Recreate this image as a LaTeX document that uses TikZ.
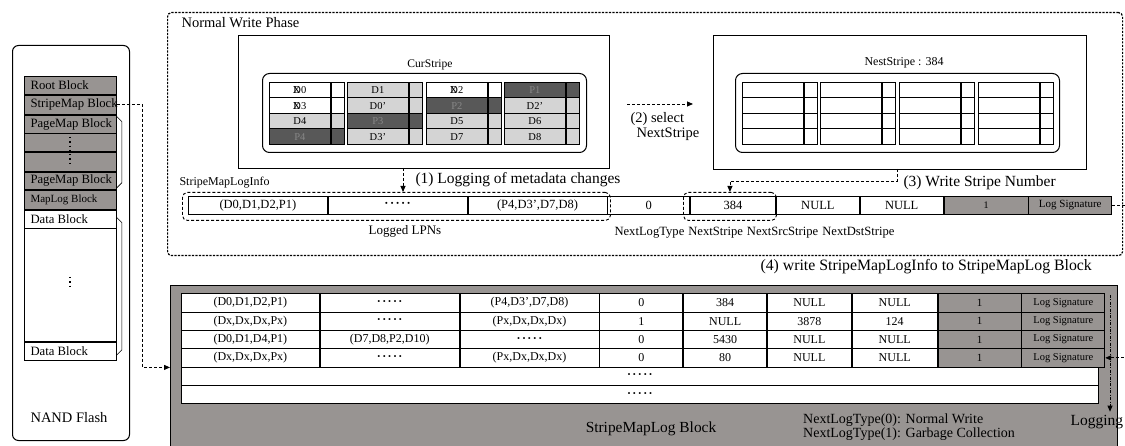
\documentclass[tikz,border=0pt]{standalone}
\usepackage{fontspec}
\setmainfont{Liberation Serif}
\usetikzlibrary{arrows.meta,calc}
\definecolor{blockgray}{RGB}{152,148,146}
\definecolor{lightcell}{RGB}{212,212,212}
\definecolor{darkcell}{RGB}{88,88,88}
\definecolor{darktext}{RGB}{135,135,135}
\newcommand\fs[1]{\fontsize{#1}{#1}\selectfont}
\newcommand\crossed[1]{\makebox[0pt][l]{\kern-0.5pt X}#1}
\newcommand\dotrow{{\bfseries ·\kern1.4pt·\kern1.4pt·\kern1.4pt·\kern1.4pt·}}
\tikzset{
 fr/.style={draw, line width=1pt, anchor=north west, inner sep=0pt},
 cellbox/.style={draw, line width=0.8pt, anchor=north west, inner sep=0pt, minimum height=15.5pt},
 mainc/.style={cellbox, minimum width=61pt, font=\fs{10.5}},
 sidec/.style={cellbox, minimum width=13pt},
 wc/.style={fill=white}, lc/.style={fill=lightcell}, dc/.style={fill=darkcell, text=darktext},
 nblk/.style={draw, line width=0.8pt, anchor=north west, minimum width=92pt, inner sep=0pt},
 blktxt/.style={anchor=west, font=\fs{12.7}},
 dsh/.style={dash pattern=on 3pt off 2pt, line width=0.9pt},
 dotb/.style={dash pattern=on 2.2pt off 1.3pt, line width=1.2pt},
 tip/.style={-{Triangle[length=6pt,width=5pt]}},
 logc/.style={draw, line width=0.8pt, anchor=north west, inner sep=0pt, minimum height=18pt, fill=white, font=\fs{12.5}},
 tc/.style={draw, line width=0.8pt, anchor=north west, inner sep=0pt, minimum height=18.33pt, fill=white, font=\fs{12}},
}
\newcommand\stcell[5]{%
 \node[mainc,#4] (#1) at (#2,#3) {#5};
 \node[sidec,#4] (#1s) at (#1.north east) {};}
\newcommand\logrow[9]{%
 \node[tc, minimum width=138pt] (#1a) at (181,#2) {#3};
 \node[tc, minimum width=139pt] (#1b) at (#1a.north east) {#4};
 \node[tc, minimum width=139pt] (#1c) at (#1b.north east) {#5};
 \node[tc, minimum width=83pt] (#1d) at (#1c.north east) {#6};
 \node[tc, minimum width=83pt] (#1e) at (#1d.north east) {#7};
 \node[tc, minimum width=84pt] (#1f) at (#1e.north east) {#8};
 \node[tc, minimum width=85pt] (#1g) at (#1f.north east) {#9};
 \node[tc, fill=blockgray, minimum width=83pt, font=\fs{11}] (#1h) at (#1g.north east) {1};
 \node[tc, fill=blockgray, minimum width=83pt, font=\fs{10.5}] (#1i) at (#1h.north east) {Log Signature};}
\begin{document}
\begin{tikzpicture}[x=1pt,y=-1pt]
\useasboundingbox (0,0) rectangle (1125,446);
% ---------------- NAND flash ----------------
\node[fr, rounded corners=6pt, minimum width=117pt, minimum height=395pt] (nand) at (12,45) {};
\node[nblk, fill=blockgray, minimum height=18pt] (rootb) at (24,76) {};
\node[nblk, fill=blockgray, minimum height=19pt] (smb) at (rootb.south west) {};
\node[nblk, fill=blockgray, minimum height=18pt] (pm1) at (smb.south west) {};
\node[nblk, fill=blockgray, minimum height=18pt] (pd1) at (pm1.south west) {};
\node[nblk, fill=blockgray, minimum height=19pt] (pd2) at (pd1.south west) {};
\node[nblk, fill=blockgray, minimum height=17pt] (pm2) at (pd2.south west) {};
\node[nblk, fill=blockgray, minimum height=19pt] (mlb) at (pm2.south west) {};
\node[nblk, fill=white, minimum height=18pt] (db1) at (mlb.south west) {};
\node[nblk, fill=white, minimum height=113pt] (dbm) at (db1.south west) {};
\node[nblk, fill=white, minimum height=18pt] (db2) at (dbm.south west) {};
\node[blktxt] at ($(rootb.west)+(3,0)$) {Root Block};
\node[blktxt] at ($(smb.west)+(3,0)$) {StripeMap Block};
\node[blktxt] at ($(pm1.west)+(3,0)$) {PageMap Block};
\node[blktxt] at ($(pm2.west)+(3,0)$) {PageMap Block};
\node[blktxt, font=\fs{11}] at ($(mlb.west)+(3,0)$) {MapLog Block};
\node[blktxt] at ($(db1.west)+(3,0)$) {Data Block};
\node[blktxt] at ($(db2.west)+(3,0)$) {Data Block};
\draw[line width=1.3pt, dash pattern=on 1.3pt off 3pt] (70,137) -- (70,165);
\draw[line width=1.3pt, dash pattern=on 1.3pt off 3pt] (70,277) -- (70,289);
\draw[line width=0.6pt] ($(pm1.north east)+(0,2)$) -- ++(5,5) -- ($(pm2.south east)+(5,-7)$) -- ($(pm2.south east)+(0,-2)$);
\draw[line width=0.6pt] ($(db1.north east)+(0,8)$) -- ++(5,5) -- ($(db2.south east)+(5,-11)$) -- ($(db2.south east)+(0,-6)$);
\node[anchor=west, font=\fs{14.5}] (nandlbl) at (27,418) {NAND Flash};
% ---------------- Normal write phase ----------------
\node[draw, dotb, anchor=north west, minimum width=955pt, minimum height=243pt, rounded corners=4pt, inner sep=0pt] (nwp) at (167,12) {};
\node[anchor=west, font=\fs{14.5}] (nwplbl) at (178,23) {Normal Write Phase};
% CurStripe
\node[fr, minimum width=371pt, minimum height=133pt] (cur) at (238,35) {};
\node[font=\fs{11.6}] (curlbl) at (430,65) {CurStripe};
\node[fr, rounded corners=7pt, minimum width=324pt, minimum height=79pt] (curin) at (262,73) {};
\stcell{c11}{269}{82}{wc}{\crossed{D}0}
\stcell{c12}{269}{97.5}{wc}{\crossed{D}3}
\stcell{c13}{269}{113}{lc}{D4}
\stcell{c14}{269}{128.5}{dc}{P4}
\stcell{c21}{347}{82}{lc}{D1}
\stcell{c22}{347}{97.5}{lc}{D0'}
\stcell{c23}{347}{113}{dc}{P3}
\stcell{c24}{347}{128.5}{lc}{D3'}
\stcell{c31}{426}{82}{wc}{\crossed{D}2}
\stcell{c32}{426}{97.5}{dc}{P2}
\stcell{c33}{426}{113}{lc}{D5}
\stcell{c34}{426}{128.5}{lc}{D7}
\stcell{c41}{504}{82}{dc}{P1}
\stcell{c42}{504}{97.5}{lc}{D2'}
\stcell{c43}{504}{113}{lc}{D6}
\stcell{c44}{504}{128.5}{lc}{D8}
% NextStripe
\node[fr, minimum width=373pt, minimum height=134pt] (nxt) at (713,35) {};
\node[font=\fs{12}] (nxtlbl) at (904,63) {NestStripe : 384};
\node[fr, rounded corners=7pt, minimum width=324pt, minimum height=79pt] (nxtin) at (735,73) {};
\foreach \x [count=\i] in {742,820,899,978}
 \foreach \y [count=\j] in {82,97.5,113,128.5}
  {\stcell{n\i\j}{\x}{\y}{wc}{}}
% (2) select NextStripe
\coordinate (s2a) at (627,104);
\coordinate (s2b) at (693,104);
\draw[dsh,tip] (s2a) -- (s2b);
\node[anchor=west, font=\fs{14.5}] (sel1) at (627,119) {(2) select};
\node[anchor=west, font=\fs{14.5}] (sel2) at (633,134) {NextStripe};
% StripeMapLogInfo row
\node[anchor=west, font=\fs{12}] (smliLbl) at (176,183) {StripeMapLogInfo};
\node[logc, minimum width=139pt] (i1) at (188,196) {(D0,D1,D2,P1)};
\node[logc, minimum width=139pt] (i2) at (i1.north east) {\dotrow};
\node[logc, minimum width=139pt] (i3) at (i2.north east) {(P4,D3',D7,D8)};
\node[logc, minimum width=82pt] (i4) at (i3.north east) {0};
\node[logc, minimum width=85pt] (i5) at (i4.north east) {384};
\node[logc, minimum width=83pt] (i6) at (i5.north east) {NULL};
\node[logc, minimum width=83pt] (i7) at (i6.north east) {NULL};
\node[logc, minimum width=84pt, fill=blockgray, font=\fs{10}] (i8) at (i7.north east) {1};
\node[logc, minimum width=83pt, fill=blockgray, font=\fs{11}] (i9) at (i8.north east) {Log Signature};
\node[draw, dsh, rounded corners=5pt, anchor=north west, minimum width=428pt, minimum height=28pt, inner sep=0pt] (lpnbox) at (182,192) {};
\node[draw, dsh, rounded corners=5pt, anchor=north west, minimum width=93pt, minimum height=28pt, inner sep=0pt] (nsbox) at (683,192) {};
\node[font=\fs{13}] (lpnlbl) at (405,231) {Logged LPNs};
\node[anchor=west, font=\fs{12.6}] (fieldlbl) at (611,233) {NextLogType\hspace{4pt}NextStripe\hspace{4pt}NextSrcStripe\hspace{4pt}NextDstStripe};
% (1) logging
\coordinate (p1) at (403,168);
\draw[dsh,tip] (p1) -- (p1 |- lpnbox.north);
\node[anchor=west, font=\fs{15.5}] (log1) at (412,180) {(1) Logging of metadata changes};
% (3) write stripe number
\coordinate (p3) at (897,169);
\draw[dsh,tip] (p3) -- (897,181) -| (nsbox.north);
\node[anchor=west, font=\fs{15.5}] (log3) at (900,183) {(3) Write Stripe Number};
% (4)
\node[anchor=west, font=\fs{15.8}] (log4) at (757,267) {(4) write StripeMapLogInfo to StripeMapLog Block};
% ---------------- StripeMapLog block ----------------
\node[draw, line width=1pt, fill=blockgray, anchor=north west, minimum width=947pt, minimum height=170pt, inner sep=0pt] (slb) at (170,285) {};
\logrow{r1}{293.3}{(D0,D1,D2,P1)}{\dotrow}{(P4,D3',D7,D8)}{0}{384}{NULL}{NULL}
\logrow{r2}{311.7}{(Dx,Dx,Dx,Px)}{\dotrow}{(Px,Dx,Dx,Dx)}{1}{NULL}{3878}{124}
\logrow{r3}{330}{(D0,D1,D4,P1)}{(D7,D8,P2,D10)}{\dotrow}{0}{5430}{NULL}{NULL}
\logrow{r4}{348.3}{(Dx,Dx,Dx,Px)}{\dotrow}{(Px,Dx,Dx,Dx)}{0}{80}{NULL}{NULL}
\node[tc, minimum width=917pt] (r5) at (181,366.7) {\dotrow};
\node[tc, minimum width=917pt] (r6) at (181,385) {\dotrow};
\node[font=\fs{15.4}] (slblbl) at (651,429) {StripeMapLog Block};
\node[anchor=north west, align=left, font=\fontsize{14}{14}\selectfont, inner sep=0pt] (types) at (803,414) {NextLogType(0): Normal Write\\NextLogType(1): Garbage Collection};
\node[anchor=west, font=\fs{15.5}] (logging) at (1067,422) {Logging};
\coordinate (lg) at (1110,295);
\draw[line width=0.8pt, dash pattern=on 3pt off 1.5pt on 0.8pt off 1.5pt, tip] (lg) -- (lg |- logging.north);
% ---------------- connectors ----------------
\draw[dsh, line width=1pt, tip] (smb.east) -- ++(26,0) |- (slb.west |- r4a.south);
\draw[dsh, tip] (i9.east) -- ++(17,0) |- (r4i.east);
\end{tikzpicture}
\end{document}
